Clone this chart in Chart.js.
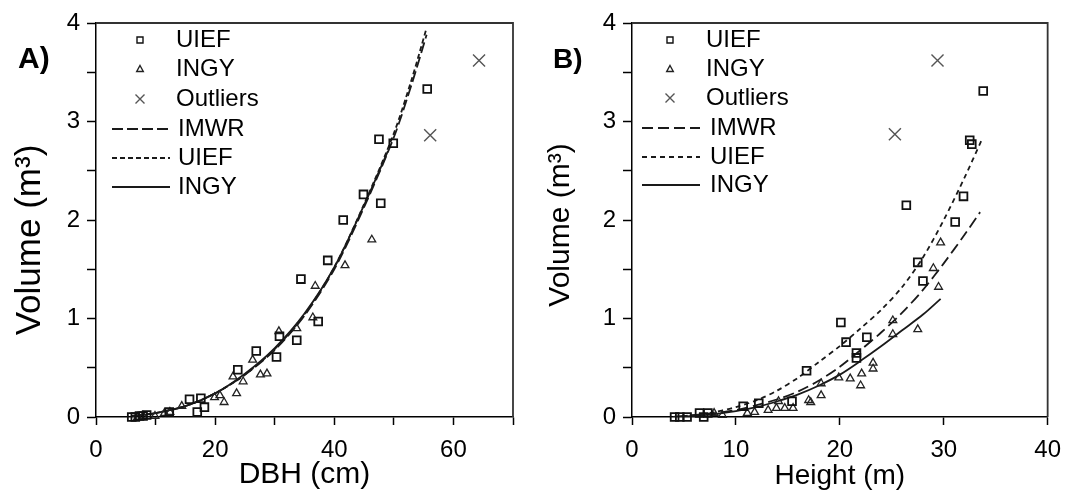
<!DOCTYPE html>
<html>
<head>
<meta charset="utf-8">
<script src="https://cdn.jsdelivr.net/npm/chart.js@4.4.1/dist/chart.umd.min.js"></script>
<style>
  html, body { margin: 0; padding: 0; background: #fff; }
  #wrap { position: relative; width: 1072px; height: 496px; }
  canvas { position: absolute; top: 0; }
  #chartA { left: 0; }
  #chartB { left: 536px; }
</style>
</head>
<body>
<div id="wrap">
  <canvas id="chartA" width="536" height="496"></canvas>
  <canvas id="chartB" width="536" height="496"></canvas>
</div>
<script>
// ---- panel A : volume vs DBH ----
const aUiefX = [55.6, 47.5, 49.9, 44.9, 47.8, 41.5, 38.9, 34.4, 37.3, 30.8, 33.7, 30.3, 26.9, 23.8, 15.7, 17.6, 18.2, 17.0, 12.3, 8.5, 7.9, 7.3, 6.6, 6.0];
const aUiefY = [3.33, 2.82, 2.78, 2.26, 2.17, 2.00, 1.59, 1.40, 0.97, 0.82, 0.78, 0.61, 0.67, 0.48, 0.18, 0.19, 0.10, 0.05, 0.05, 0.02, 0.01, 0.01, 0.00, 0.00];
const aIngyX = [46.3, 41.8, 36.8, 36.4, 33.7, 30.7, 26.3, 28.7, 27.6, 24.7, 23.6, 23.0, 21.5, 20.8, 19.9, 14.4, 12.4, 11.5, 9.9, 7.9, 7.0];
const aIngyY = [1.80, 1.54, 1.33, 1.01, 0.90, 0.87, 0.58, 0.44, 0.43, 0.36, 0.24, 0.41, 0.15, 0.22, 0.20, 0.11, 0.05, 0.04, 0.01, 0.01, 0.00];
const aOutX = [64.3, 56.1];
const aOutY = [3.62, 2.86];
const aFitX = [6, 10, 15, 20, 25, 30, 35, 40, 45, 50, 53, 55.5];
const aImwrFit = [0.01, 0.04, 0.11, 0.24, 0.43, 0.68, 1.03, 1.50, 2.13, 2.84, 3.38, 3.88];
const aUiefFit = [0.01, 0.04, 0.11, 0.24, 0.43, 0.69, 1.04, 1.52, 2.16, 2.88, 3.43, 3.95];
const aIngyFitX = [6, 10, 15, 20, 25, 30, 35, 40, 45, 49];
const aIngyFit = [0.01, 0.04, 0.11, 0.24, 0.44, 0.70, 1.05, 1.52, 2.15, 2.70];

// ---- panel B : volume vs height ----
const bUiefX = [33.8, 32.5, 32.7, 31.9, 31.1, 26.4, 27.5, 28.0, 20.1, 20.6, 22.6, 21.6, 21.6, 16.8, 15.4, 12.2, 10.7, 7.3, 6.5, 6.9, 4.1, 4.6, 5.3];
const bUiefY = [3.31, 2.81, 2.77, 2.24, 1.98, 2.15, 1.57, 1.38, 0.96, 0.76, 0.81, 0.65, 0.60, 0.47, 0.16, 0.14, 0.11, 0.04, 0.04, 0.00, 0.00, 0.00, 0.00];
const bIngyX = [29.7, 29.0, 29.5, 25.1, 25.1, 27.5, 23.2, 23.2, 22.1, 22.0, 21.0, 19.9, 18.2, 18.2, 17.2, 17.0, 15.5, 14.7, 13.9, 14.1, 13.1, 11.8, 11.1, 8.7, 7.9];
const bIngyY = [1.77, 1.51, 1.32, 0.98, 0.84, 0.89, 0.55, 0.49, 0.44, 0.32, 0.39, 0.40, 0.22, 0.34, 0.15, 0.17, 0.09, 0.09, 0.09, 0.16, 0.07, 0.05, 0.04, 0.02, 0.04];
const bOutX = [29.4, 25.3];
const bOutY = [3.62, 2.87];
const bUiefFitX = [4, 6, 8, 10, 12, 14, 16, 18, 20, 22, 24, 26, 28, 30, 32, 33.6];
const bUiefFit = [0.00, 0.02, 0.05, 0.10, 0.17, 0.27, 0.40, 0.56, 0.72, 0.90, 1.09, 1.32, 1.62, 2.00, 2.43, 2.80];
const bImwrFitX = [4, 6, 8, 10, 12, 14, 16, 18, 20, 22, 24, 26, 28, 30, 32, 33.5];
const bImwrFit = [0.00, 0.02, 0.04, 0.07, 0.12, 0.18, 0.26, 0.37, 0.51, 0.68, 0.86, 1.06, 1.29, 1.56, 1.85, 2.08];
const bIngyFitX = [4, 6, 8, 10, 12, 14, 16, 18, 20, 22, 24, 26, 28, 29.7];
const bIngyFit = [0.00, 0.01, 0.03, 0.06, 0.10, 0.16, 0.23, 0.32, 0.43, 0.57, 0.72, 0.88, 1.04, 1.20];

const FONT = "'Liberation Sans', Arial, sans-serif";
const pts = (xs, ys) => xs.map((x, i) => ({ x, y: ys[i] }));

function pointSet(label, xs, ys, style, radius, color, bw) {
  return {
    label, data: pts(xs, ys), showLine: false, clip: false,
    pointStyle: style, pointRadius: radius, pointHoverRadius: radius,
    pointBorderColor: color, pointBackgroundColor: 'rgba(0,0,0,0)', pointBorderWidth: bw
  };
}
function curveSet(label, xs, ys, dash) {
  return {
    label, data: pts(xs, ys), showLine: true, pointRadius: 0, fill: false,
    borderColor: '#1a1a1a', borderWidth: 1.8, borderDash: dash, tension: 0.3
  };
}

function drawMark(ctx, style, x, y, color) {
  ctx.strokeStyle = color;
  ctx.lineWidth = 1.4;
  ctx.beginPath();
  if (style === 'rect') {
    ctx.rect(x - 3, y - 3, 6, 6);
  } else if (style === 'triangle') {
    ctx.moveTo(x, y - 3.5); ctx.lineTo(x + 3.3, y + 2.5); ctx.lineTo(x - 3.3, y + 2.5); ctx.closePath();
  } else {
    ctx.moveTo(x - 4.5, y - 4.5); ctx.lineTo(x + 4.5, y + 4.5);
    ctx.moveTo(x + 4.5, y - 4.5); ctx.lineTo(x - 4.5, y + 4.5);
  }
  ctx.stroke();
}

// frame, panel letter, y title and in-plot legend
const panelDecor = {
  id: 'panelDecor',
  afterDraw(chart, args, o) {
    const { ctx, chartArea: a } = chart;
    ctx.save();
    ctx.strokeStyle = '#333';
    ctx.lineWidth = 1.8;
    ctx.beginPath();
    ctx.moveTo(a.left, a.top); ctx.lineTo(a.right, a.top); ctx.lineTo(a.right, a.bottom);
    ctx.stroke();

    ctx.fillStyle = '#000';
    ctx.font = o.letterFont;
    ctx.textAlign = 'left';
    ctx.textBaseline = 'alphabetic';
    ctx.fillText(o.letter, o.letterX, o.letterY);

    ctx.save();
    ctx.translate(o.titleX, o.titleY);
    ctx.rotate(-Math.PI / 2);
    ctx.font = o.titleFont;
    ctx.textAlign = 'center';
    ctx.textBaseline = 'middle';
    ctx.fillText('Volume (m\u00B3)', 0, 0);
    ctx.restore();

    ctx.font = '24px ' + FONT;
    ctx.textBaseline = 'middle';
    chart.data.datasets.forEach((ds, i) => {
      const y = o.rows[i];
      if (ds.showLine) {
        ctx.strokeStyle = ds.borderColor;
        ctx.lineWidth = ds.borderWidth;
        ctx.setLineDash(ds.borderDash || []);
        ctx.beginPath();
        ctx.moveTo(a.left + o.lineDx[0], y); ctx.lineTo(a.left + o.lineDx[1], y);
        ctx.stroke();
        ctx.setLineDash([]);
        ctx.fillStyle = '#000';
        ctx.fillText(ds.label, a.left + o.lineTextDx, y);
      } else {
        drawMark(ctx, ds.pointStyle, a.left + o.markDx, y, ds.pointBorderColor);
        ctx.fillStyle = '#000';
        ctx.fillText(ds.label, a.left + o.textDx, y);
      }
    });
    ctx.restore();
  }
};

function makeChart(id, sets, xMax, xLabelEvery, xTitle, xTitleSize, padRight, decor) {
  return new Chart(document.getElementById(id), {
    type: 'scatter',
    data: { datasets: sets },
    plugins: [panelDecor],
    options: {
      responsive: false,
      animation: false,
      devicePixelRatio: 1,
      layout: { padding: { top: 23, right: padRight, left: 0, bottom: 0 } },
      plugins: { legend: { display: false }, tooltip: { enabled: false }, panelDecor: decor },
      scales: {
        x: {
          type: 'linear', min: 0, max: xMax,
          afterFit: (s) => { s.height = 79; },
          border: { color: '#000', width: 1.5 },
          grid: { drawOnChartArea: false, drawTicks: true, tickLength: 8, tickColor: '#000', tickWidth: 1.5 },
          ticks: {
            stepSize: 10, autoSkip: false, maxRotation: 0, padding: 11, color: '#000',
            font: { family: FONT, size: 24 },
            callback: (v) => (v % xLabelEvery === 0 ? v : '')
          },
          title: { display: true, text: xTitle, color: '#000', font: { family: FONT, size: xTitleSize }, padding: { top: 0, bottom: 3 } }
        },
        y: {
          type: 'linear', min: 0, max: 4,
          afterFit: (s) => { s.width = 96; },
          border: { color: '#000', width: 1.5 },
          grid: { drawOnChartArea: false, drawTicks: true, tickLength: 9, tickColor: '#000', tickWidth: 1.5 },
          ticks: {
            stepSize: 0.5, autoSkip: false, padding: 7, color: '#000',
            font: { family: FONT, size: 24 },
            callback: (v) => (Number.isInteger(v) ? v : '')
          }
        }
      }
    }
  });
}

makeChart('chartA', [
  pointSet('UIEF', aUiefX, aUiefY, 'rect', 5.5, '#111', 1.8),
  pointSet('INGY', aIngyX, aIngyY, 'triangle', 4.5, '#222', 1.3),
  pointSet('Outliers', aOutX, aOutY, 'crossRot', 8.5, '#555', 1.4),
  curveSet('IMWR', aFitX, aImwrFit, [11, 4]),
  curveSet('UIEF', aFitX, aUiefFit, [5, 3]),
  curveSet('INGY', aIngyFitX, aIngyFit, [])
], 70, 20, 'DBH (cm)', 30, 23, {
  letter: 'A)', letterX: 18, letterY: 68, letterFont: 'bold 30px ' + FONT,
  titleX: 30, titleY: 240, titleFont: '35px ' + FONT,
  rows: [40, 69, 99, 129, 158, 187],
  markDx: 44, textDx: 80, lineDx: [16, 74], lineTextDx: 82
});

makeChart('chartB', [
  pointSet('UIEF', bUiefX, bUiefY, 'rect', 5.5, '#111', 1.8),
  pointSet('INGY', bIngyX, bIngyY, 'triangle', 4.5, '#222', 1.3),
  pointSet('Outliers', bOutX, bOutY, 'crossRot', 8.5, '#555', 1.4),
  curveSet('IMWR', bImwrFitX, bImwrFit, [11, 5]),
  curveSet('UIEF', bUiefFitX, bUiefFit, [5, 4]),
  curveSet('INGY', bIngyFitX, bIngyFit, [])
], 40, 10, 'Height (m)', 28, 19, {
  letter: 'B)', letterX: 17, letterY: 68, letterFont: 'bold 28px ' + FONT,
  titleX: 25, titleY: 225, titleFont: '30px ' + FONT,
  rows: [40, 69, 98, 128, 157, 185],
  markDx: 38, textDx: 74, lineDx: [10, 68], lineTextDx: 78
});
</script>
</body>
</html>
